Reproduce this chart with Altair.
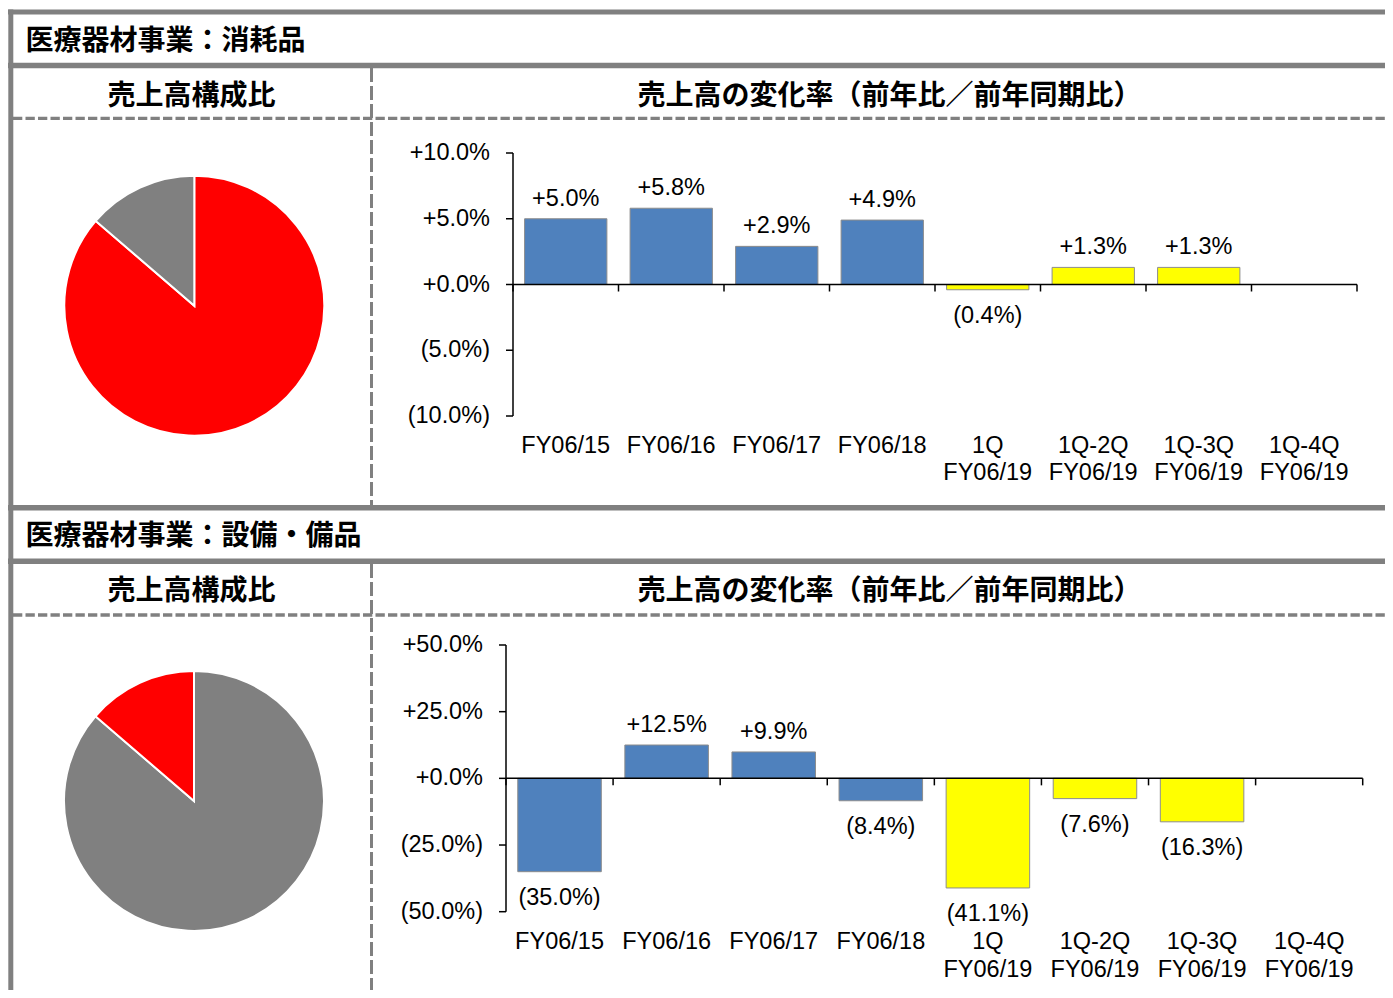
import altair as alt
import pandas as pd

# ---------------- data ----------------
categories = ["FY06/15", "FY06/16", "FY06/17", "FY06/18",
              "1Q FY06/19", "1Q-2Q FY06/19", "1Q-3Q FY06/19", "1Q-4Q FY06/19"]
category_labels = ["FY06/15", "FY06/16", "FY06/17", "FY06/18",
                   "1Q\nFY06/19", "1Q-2Q\nFY06/19", "1Q-3Q\nFY06/19", "1Q-4Q\nFY06/19"]
period_kind = ["通期", "通期", "通期", "通期", "累計", "累計", "累計", "累計"]
kinds = ["通期", "累計"]

consumables_growth = [5.0, 5.8, 2.9, 4.9, -0.4, 1.3, 1.3, None]
equipment_growth = [-35.0, 12.5, 9.9, -8.4, -41.1, -7.6, -16.3, None]

segments = ["消耗品", "設備・備品"]
segment_share = [86.3, 13.7]

cons_ticks = [10, 5, 0, -5, -10]
cons_tick_labels = ["+10.0%", "+5.0%", "+0.0%", "(5.0%)", "(10.0%)"]
equip_ticks = [50, 25, 0, -25, -50]
equip_tick_labels = ["+50.0%", "+25.0%", "+0.0%", "(25.0%)", "(50.0%)"]

section_titles = ["医療器材事業：消耗品", "医療器材事業：設備・備品"]
pie_title = "売上高構成比"
bar_title = "売上高の変化率（前年比／前年同期比）"

# ---------------- style ----------------
W, H = 1377, 982
GRAY = "#808080"
BLUE = "#4F81BD"
YELLOW = "#FFFF00"
RED = "#FF0000"
NUM_FONT = "Liberation Sans"
JP_FONT = "Noto Sans CJK JP"
NUM_SIZE = 23.5

one = alt.InlineData(values=[{}])


def fmt(v):
    if v is None:
        return ""
    return f"+{v:.1f}%" if v >= 0 else f"({abs(v):.1f}%)"


def hline(y, x0, x1, width, dash=None):
    kw = dict(color=GRAY, strokeWidth=width, strokeCap="butt")
    if dash:
        kw["strokeDash"] = dash
    return alt.Chart(one).mark_rule(**kw).encode(
        x=alt.value(x0), x2=alt.value(x1), y=alt.value(y))


def vline(x, y0, y1, width, dash=None):
    kw = dict(color=GRAY, strokeWidth=width, strokeCap="butt")
    if dash:
        kw["strokeDash"] = dash
    return alt.Chart(one).mark_rule(**kw).encode(
        x=alt.value(x), y=alt.value(y0), y2=alt.value(y1))


def jp_text(text, x, y, size=28, align="left"):
    return alt.Chart(one).mark_text(
        text=text, font=JP_FONT, fontSize=size, fontWeight="bold",
        align=align, baseline="alphabetic", color="black"
    ).encode(x=alt.value(x), y=alt.value(y))


def pie(cx, cy, colors):
    df = pd.DataFrame({"segment": segments, "share": segment_share,
                       "idx": list(range(len(segments)))})
    return alt.Chart(df).mark_arc(outerRadius=130, stroke="white", strokeWidth=2).encode(
        theta=alt.Theta("share:Q", stack=True),
        order=alt.Order("idx:Q"),
        color=alt.Color("segment:N", scale=alt.Scale(domain=segments, range=colors), legend=None),
        x=alt.value(cx), y=alt.value(cy),
    )


def growth_panel(values, ticks, tick_labels, dom, x0, x1, y_rng, lab_x, cat_y):
    df = pd.DataFrame({
        "cat": categories, "label": category_labels, "kind": period_kind,
        "value": values, "text": [fmt(v) for v in values],
    })
    tick_df = pd.DataFrame({"t": ticks, "lab": tick_labels})
    xs = alt.Scale(domain=categories, range=[x0, x1], paddingInner=0.22, paddingOuter=0.11)
    xt = alt.Scale(domain=categories, range=[x0, x1], paddingInner=0, paddingOuter=0)
    ys = alt.Scale(domain=dom, range=y_rng, nice=False)

    bars = alt.Chart(df).mark_bar(stroke="#8C8C8C", strokeWidth=1).encode(
        x=alt.X("cat:N", scale=xs, axis=None, sort=categories),
        y=alt.Y("value:Q", scale=ys, axis=None),
        color=alt.Color("kind:N", scale=alt.Scale(domain=kinds, range=[BLUE, YELLOW]), legend=None),
    )
    x_axis = alt.Chart(one).mark_rule(color="black", strokeWidth=1.5).encode(
        x=alt.value(x0), x2=alt.value(x1),
        y=alt.Y(datum=0, scale=ys, axis=None),
    )
    y_axis = alt.Chart(one).mark_rule(color="black", strokeWidth=1.5).encode(
        x=alt.value(x0),
        y=alt.Y(datum=dom[0], scale=ys, axis=None),
        y2=alt.Y2(datum=dom[1]),
    )
    y_ticks = alt.Chart(tick_df).mark_rule(color="black", strokeWidth=1.5).encode(
        x=alt.value(x0 - 7), x2=alt.value(x0),
        y=alt.Y("t:Q", scale=ys, axis=None),
    )
    y_labels = alt.Chart(tick_df).mark_text(
        font=NUM_FONT, fontSize=NUM_SIZE, align="right", baseline="middle", color="black"
    ).encode(
        x=alt.value(lab_x),
        y=alt.Y("t:Q", scale=ys, axis=None),
        text="lab:N",
    )
    x_ticks = alt.Chart(df).mark_rule(color="black", strokeWidth=1.5, y2Offset=7).encode(
        x=alt.X("cat:N", scale=xt, axis=None, sort=categories, bandPosition=0),
        y=alt.Y(datum=0, scale=ys, axis=None),
        y2=alt.Y2(datum=0),
    )
    x_tick_end = alt.Chart(df).transform_filter(
        alt.datum.cat == categories[-1]
    ).mark_rule(color="black", strokeWidth=1.5, y2Offset=7).encode(
        x=alt.X("cat:N", scale=xt, axis=None, sort=categories, bandPosition=1),
        y=alt.Y(datum=0, scale=ys, axis=None),
        y2=alt.Y2(datum=0),
    )
    x_labels = alt.Chart(df).mark_text(
        font=NUM_FONT, fontSize=NUM_SIZE, align="center", baseline="alphabetic",
        lineBreak="\n", lineHeight=27.6, color="black"
    ).encode(
        x=alt.X("cat:N", scale=xs, axis=None, sort=categories),
        y=alt.value(cat_y),
        text="label:N",
    )
    pos_labels = alt.Chart(df).transform_filter("datum.value > 0").mark_text(
        font=NUM_FONT, fontSize=NUM_SIZE, align="center", baseline="alphabetic",
        dy=-13, color="black"
    ).encode(
        x=alt.X("cat:N", scale=xs, axis=None, sort=categories),
        y=alt.Y("value:Q", scale=ys, axis=None),
        text="text:N",
    )
    neg_labels = alt.Chart(df).transform_filter("datum.value < 0").mark_text(
        font=NUM_FONT, fontSize=NUM_SIZE, align="center", baseline="alphabetic",
        dy=33, color="black"
    ).encode(
        x=alt.X("cat:N", scale=xs, axis=None, sort=categories),
        y=alt.Y("value:Q", scale=ys, axis=None),
        text="text:N",
    )
    return [bars, x_axis, y_axis, y_ticks, y_labels, x_ticks, x_tick_end,
            x_labels, pos_labels, neg_labels]


HDASH = [9.3, 3.2]
VDASH = [14, 4]

layers = [
    # frame section 1
    hline(4, 0, W, 5),
    hline(57.5, 0, W, 5.5),
    hline(110.4, 5, W, 3.3, HDASH),
    vline(363.5, 60, 497, 3, VDASH),
    # frame section 2
    hline(499.8, 0, W, 5.5),
    hline(553.2, 0, W, 5.5),
    hline(607, 5, W, 3.3, HDASH),
    vline(363.5, 556, 990, 3, VDASH),
    # left border
    vline(2.8, 1.5, 990, 5),
    # header texts
    jp_text(section_titles[0], 17.5, 42),
    jp_text(pie_title, 183.5, 97, align="center"),
    jp_text(bar_title, 881.5, 97, align="center"),
    jp_text(section_titles[1], 17.5, 537),
    jp_text(pie_title, 183.5, 592, align="center"),
    jp_text(bar_title, 881.5, 592, align="center"),
    # pies
    pie(186.3, 297.7, [RED, GRAY]),
    pie(186.0, 793.0, [GRAY, RED]),
]

layers += growth_panel(consumables_growth, cons_ticks, cons_tick_labels, [-10, 10],
                       505, 1349, [408, 145], 482, 444.5)
layers += growth_panel(equipment_growth, equip_ticks, equip_tick_labels, [-50, 50],
                       498, 1354.7, [903.7, 637], 475, 941)

chart = alt.layer(*layers).properties(
    width=W, height=H,
    autosize=alt.AutoSizeParams(type="none"),
    padding=0,
).resolve_scale(
    x="independent", y="independent", color="independent", theta="independent"
).configure_view(stroke=None)

chart.save("out.html", embed_options={"renderer": "svg", "actions": False})
